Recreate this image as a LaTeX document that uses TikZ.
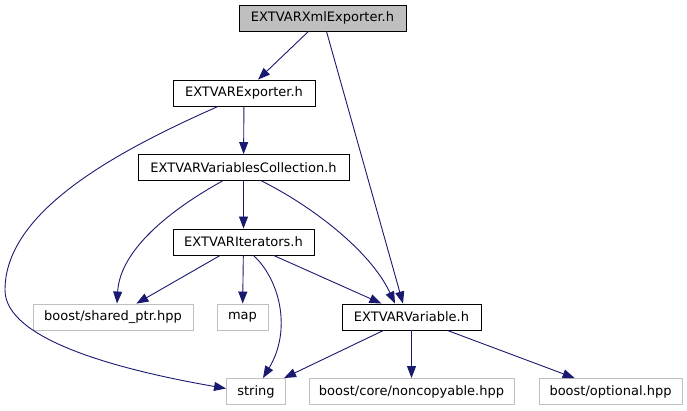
\documentclass[tikz,border=0pt]{standalone}
\usepackage{fontspec}
\setmainfont{DejaVu Sans}
\usetikzlibrary{arrows.meta}
\definecolor{incblue}{HTML}{191970}
\definecolor{sysgray}{HTML}{BFBFBF}
\begin{document}
\begin{tikzpicture}[x=1pt,y=-1pt,line width=.9pt,
  hdr/.style={draw=black,fill=white,inner sep=0pt,minimum height=26pt,font=\fontsize{13}{15}\selectfont},
  roothdr/.style={hdr,fill=sysgray},
  sysinc/.style={hdr,draw=sysgray},
  inc/.style={draw=incblue,line width=.9pt,-{Triangle[length=12pt,width=9pt]}}]
\path[use as bounding box] (0,0) rectangle (687,411);
\node[roothdr,minimum width=167pt] (xml) at (322.5,18) {EXTVARXmlExporter.h};
\node[hdr,minimum width=142pt] (exp) at (244,93) {EXTVARExporter.h};
\node[hdr,minimum width=211pt] (coll) at (243.5,167.5) {EXTVARVariablesCollection.h};
\node[hdr,minimum width=141pt] (iter) at (243.5,242) {EXTVARIterators.h};
\node[sysinc,minimum width=160pt] (shptr) at (113,317) {boost/shared\_ptr.hpp};
\node[sysinc,minimum width=51pt] (map) at (242.5,317) {map};
\node[hdr,minimum width=139pt] (var) at (411.5,317) {EXTVARVariable.h};
\node[sysinc,minimum width=59pt] (str) at (256,391.5) {string};
\node[sysinc,minimum width=205pt] (noncp) at (411.5,391.5) {boost/core/noncopyable.hpp};
\node[sysinc,minimum width=143pt] (opt) at (610.5,391.5) {boost/optional.hpp};
\draw[inc] (xml) -- (exp);
\draw[inc] ([xshift=4pt]xml.south) -- ([xshift=-8.5pt]var.north);
\draw[inc] (exp) -- (coll);
\draw[inc] ([xshift=-26pt]exp.south) .. controls (120,150) and (5,210) .. (5,290) .. controls (5,340) and (120,370) .. ([yshift=3pt]str.west);
\draw[inc] (coll) -- (iter);
\draw[inc] ([xshift=-21pt]coll.south) .. controls (170,210) and (120,250) .. ([xshift=4pt]shptr.north);
\draw[inc] ([xshift=18pt]coll.south) .. controls (310,205) and (370,250) .. ([xshift=-16.5pt]var.north);
\draw[inc] (iter) -- (shptr);
\draw[inc] (iter) -- (map);
\draw[inc] ([xshift=10pt]iter.south) .. controls (280,280) and (292,330) .. ([xshift=7pt]str.north);
\draw[inc] (iter) -- (var);
\draw[inc] (var) -- (str);
\draw[inc] (var) -- (noncp);
\draw[inc] (var) -- (opt);
\end{tikzpicture}
\end{document}
